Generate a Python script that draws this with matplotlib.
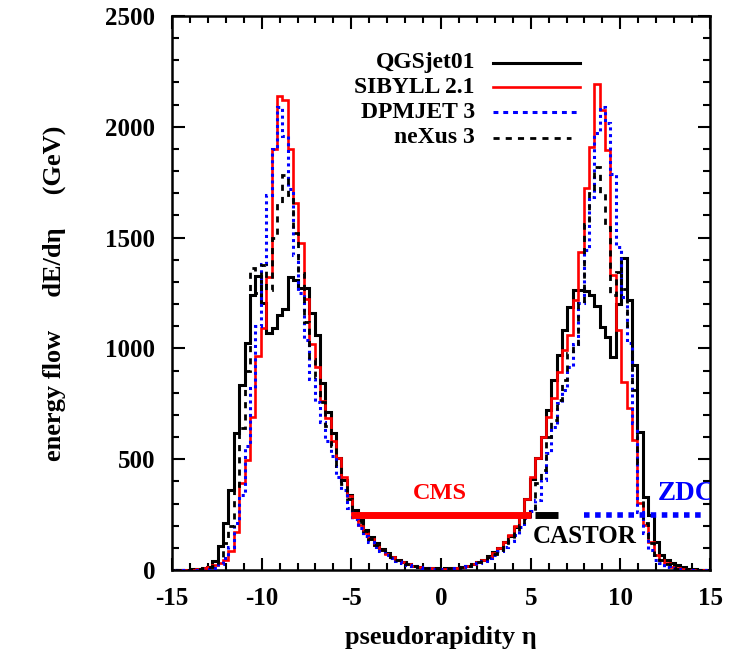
import numpy as np
import matplotlib.pyplot as plt

# energy flow dE/deta (GeV), bins of 0.3 in eta, centres -14.7 ... 14.7
qgsjet = [0, 0, 2, 3, 5, 8, 15, 40, 110, 210,
          361, 617, 835, 1023, 1241, 1326, 1206, 1068, 1090, 1150,
          1176, 1323, 1308, 1271, 1271, 1158, 1060, 842, 714, 617,
          504, 406, 338,
          270, 225, 182, 148, 120, 95, 76, 60, 46, 35,
          27, 20, 14, 10, 8, 7, 6, 7, 8, 10,
          14, 20, 27, 36, 47, 62, 80, 100, 125, 155,
          195, 250, 320,
          410, 504, 601, 722, 857, 970, 1083, 1188, 1263, 1263,
          1260, 1240, 1190, 1098, 1053, 962, 1200, 1406, 1218, 925,
          624, 331, 248, 128, 68, 45, 33, 23, 12, 6,
          3, 1, 0]

sibyll = [0, 0, 0, 2, 4, 8, 14, 22, 30, 45,
          86, 173, 391, 496, 692, 965, 1090, 1323, 1902, 2140,
          2120, 1902, 1657, 1474, 1222, 1022, 914, 762, 684, 582,
          507, 418, 334,
          250, 205, 168, 138, 112, 90, 72, 57, 44, 34,
          26, 19, 14, 10, 8, 6, 6, 6, 8, 10,
          14, 19, 26, 34, 45, 58, 75, 98, 125, 160,
          200, 250, 320,
          421, 504, 601, 692, 774, 895, 992, 1060, 1218, 1436,
          1722, 1910, 2195, 2075, 1895, 1331, 1083, 850, 729, 586,
          301, 203, 128, 68, 45, 30, 15, 8, 4, 2,
          1, 0, 0]

dpmjet = [0, 0, 0, 0, 2, 4, 6, 10, 25, 55,
          105, 210, 338, 560, 820, 1100, 1380, 1692, 1900, 2090,
          1960, 1720, 1420, 1250, 1040, 860, 760, 670, 580, 515,
          420, 360, 280,
          230, 190, 155, 128, 104, 84, 67, 53, 41, 31,
          24, 18, 13, 9, 7, 6, 5, 6, 7, 9,
          13, 18, 24, 31, 40, 52, 66, 84, 105, 130,
          160, 195, 235,
          265, 316, 406, 526, 647, 752, 812, 917, 1022, 1203,
          1444, 1684, 1970, 2090, 2015, 1789, 1459, 1233, 1023, 662,
          263, 165, 90, 45, 30, 15, 8, 4, 2, 0,
          0, 0, 0]

nexus = [0, 0, 2, 3, 5, 8, 12, 20, 60, 120,
         200, 380, 640, 900, 1361, 1250, 1376, 1263, 1500, 1654,
         1782, 1692, 1519, 1338, 1120, 950, 870, 760, 650, 560,
         470, 390, 320,
         260, 215, 175, 142, 115, 92, 73, 57, 44, 34,
         26, 19, 14, 10, 8, 6, 6, 6, 8, 10,
         14, 19, 26, 34, 44, 57, 73, 92, 115, 142,
         175, 205, 230,
         260, 391, 451, 602, 677, 767, 857, 977, 1022, 1203,
         1560, 1700, 1820, 1700, 1550, 1240, 1346, 1270, 1100, 812,
         481, 210, 120, 68, 45, 25, 12, 6, 3, 1,
         0, 0, 0]

# detector acceptance bars: (eta_from, eta_to)
cms_range = (-5.0, 5.0)
castor_range = (5.25, 6.5)
zdc_range = (8.0, 14.6)
bar_level = 250

plt.rcParams['font.family'] = ['Liberation Serif', 'DejaVu Serif']
plt.rcParams['font.weight'] = 'bold'
plt.rcParams['axes.labelweight'] = 'bold'
plt.rcParams['axes.unicode_minus'] = False
plt.rcParams['axes.linewidth'] = 1.8

fig = plt.figure(figsize=(7.37, 6.5), dpi=100)
ax = fig.add_axes([172 / 737, 80 / 650, 538 / 737, 554 / 650])

edges = np.linspace(-14.85, 14.85, len(qgsjet) + 1)
ax.stairs(qgsjet, edges, color='black', lw=2.2, zorder=3)
ax.stairs(sibyll, edges, color='red', lw=1.9, zorder=4)
ax.stairs(dpmjet, edges, color='blue', lw=2.2, ls=(0, (1.0, 1.2)), zorder=5)
ax.stairs(nexus, edges, color='black', lw=2.0, ls=(0, (2.2, 2.2)), zorder=6)

# detector bars
ax.hlines(bar_level, *cms_range, color='red', lw=5, zorder=7)
ax.hlines(bar_level, *castor_range, color='black', lw=5, zorder=7)
ax.hlines(bar_level, *zdc_range, color='blue', lw=4, ls=(0, (1, 1)), zorder=7)
ax.text(-0.05, 347, 'CMS', color='red', fontsize=17.5, ha='center', va='center')
ax.text(8.0, 149, 'CASTOR', color='black', fontsize=18, ha='center', va='center')
ax.text(12.1, 347, 'ZDC', color='blue', fontsize=19.5, ha='left', va='center', clip_on=True)

# legend drawn by hand: right aligned names, sample line on the right
names = ['QGSjet01', 'SIBYLL 2.1', 'DPMJET 3', 'neXus 3']
styles = [dict(color='black', lw=2.2, ls='-'),
          dict(color='red', lw=1.9, ls='-'),
          dict(color='blue', lw=2.2, ls=(0, (1.6, 1.6))),
          dict(color='black', lw=2.0, ls=(0, (2.2, 2.2)))]
rows = [0.916, 0.871, 0.826, 0.780]
ends = [0.758, 0.758, 0.754, 0.742]
for name, st, y, x1 in zip(names, styles, rows, ends):
    ax.text(0.563, y, name, transform=ax.transAxes, ha='right', va='center', fontsize=17)
    ax.plot([0.597, x1], [y, y], transform=ax.transAxes, **st)

ax.set_xlim(-15, 15)
ax.set_ylim(0, 2500)
ax.set_xticks([-15, -10, -5, 0, 5, 10, 15])
ax.set_xticks(np.arange(-15, 16, 1), minor=True)
ax.set_yticks([0, 500, 1000, 1500, 2000, 2500])
ax.set_yticks(np.arange(0, 2501, 100), minor=True)
ax.tick_params(which='both', direction='in', top=True, right=True, width=1.5)
ax.tick_params(which='major', length=9, labelsize=18, pad=12)
ax.tick_params(which='minor', length=5)

ax.set_xlabel('pseudorapidity η', fontsize=19, labelpad=12)
ax.set_ylabel('energy flow     dE/dη     (GeV)', fontsize=19, labelpad=28)

fig.savefig('out.png', dpi=100)
